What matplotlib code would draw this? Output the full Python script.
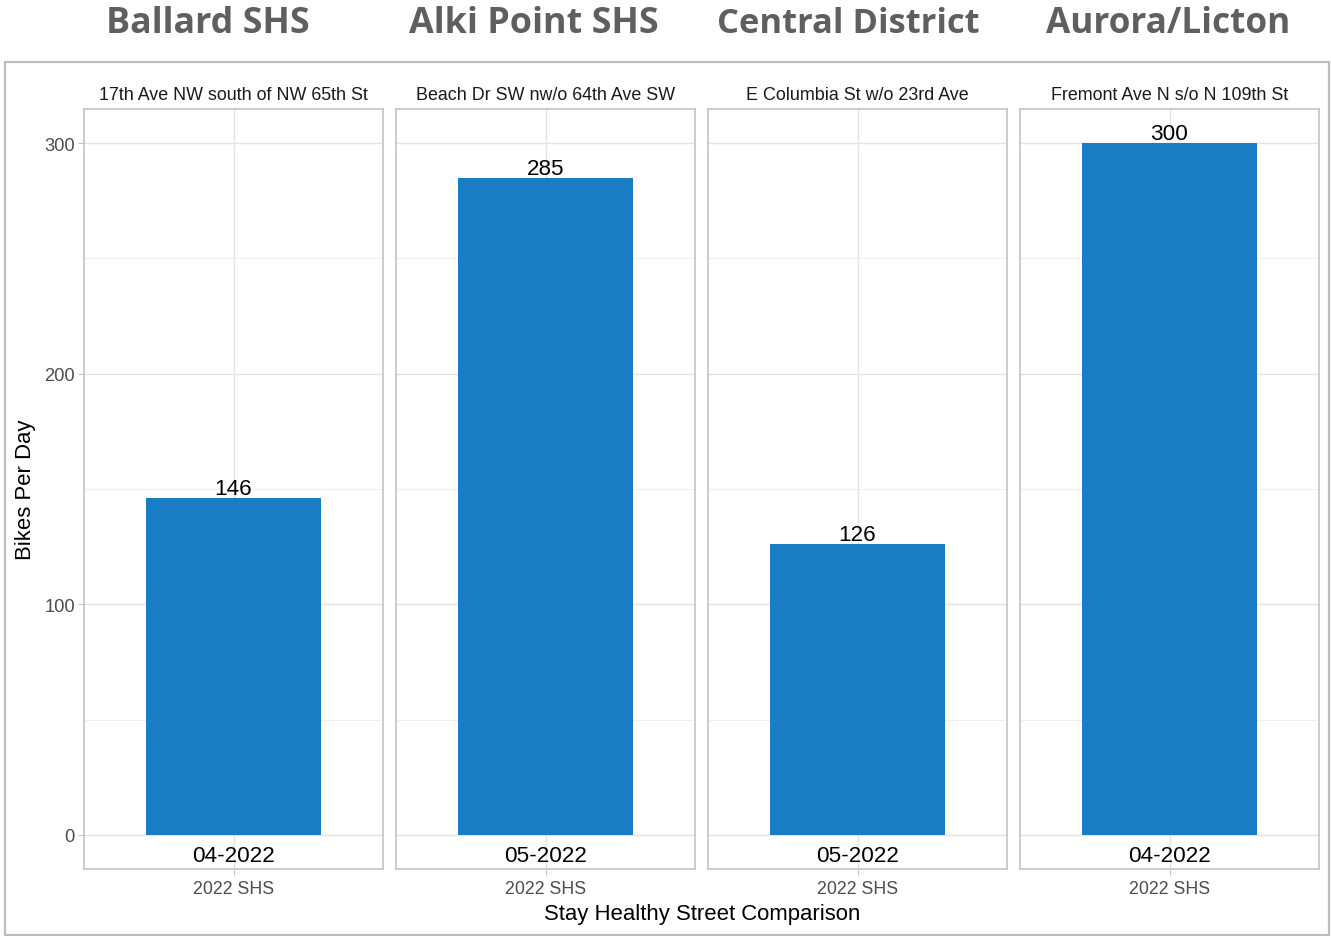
import matplotlib
matplotlib.use("Agg")
import matplotlib.pyplot as plt
from matplotlib.patches import Rectangle
from matplotlib.ticker import MultipleLocator

# --- data -------------------------------------------------------------
areas = ["Ballard SHS", "Alki Point SHS", "Central District", "Aurora/Licton"]
locations = [
    "17th Ave NW south of NW 65th St",
    "Beach Dr SW nw/o 64th Ave SW",
    "E Columbia St w/o 23rd Ave",
    "Fremont Ave N s/o N 109th St",
]
count_months = ["04-2022", "05-2022", "05-2022", "04-2022"]
bikes_per_day = [146, 285, 126, 300]
category = "2022 SHS"
y_ticks = [0, 100, 200, 300]

# --- styling ----------------------------------------------------------
W, H = 1331, 937
BAR = "#1a7cc3"
GRID = "#e3e3e3"
BORDER = "#c4c4c4"
TICK_TXT = "#4d4d4d"
FONT = "Liberation Sans"

plt.rcParams["font.family"] = FONT

fig = plt.figure(figsize=(W / 100, H / 100), dpi=100)


def rect(x0, x1, y0, y1):
    return [x0 / W, 1 - y1 / H, (x1 - x0) / W, (y1 - y0) / H]


# outer frame around the faceted plot
fig.patches.append(Rectangle((5 / W, 1 - 936 / H), (1329 - 5) / W, (936 - 63) / H,
                             transform=fig.transFigure, fill=False,
                             edgecolor="#bdbdbd", linewidth=1.6))

title_x = [208, 534, 848, 1168]
title_size = [25.8, 25.8, 24.8, 25.3]
panel_left = [84, 396, 708, 1020]
panel_w = 299

for i, (area, loc, month, val) in enumerate(
        zip(areas, locations, count_months, bikes_per_day)):
    ax = fig.add_axes(rect(panel_left[i], panel_left[i] + panel_w, 110, 870))
    ax.bar([1], [val], width=0.7, color=BAR, zorder=3)
    ax.set_xlim(0.4, 1.6)
    ax.set_ylim(-14.75, 314.75)

    ax.yaxis.set_major_locator(MultipleLocator(100))
    ax.yaxis.set_minor_locator(MultipleLocator(50))
    ax.set_xticks([1])
    ax.set_xticklabels([category])
    ax.grid(which="major", axis="both", color=GRID, linewidth=1.0, zorder=0)
    ax.grid(which="minor", axis="y", color="#efefef", linewidth=0.7, zorder=0)
    ax.set_axisbelow(True)

    for sp in ax.spines.values():
        sp.set_color(BORDER)
        sp.set_linewidth(1.2)

    ax.tick_params(axis="x", which="major", length=4.5, color=BORDER,
                   labelsize=12.8, labelcolor=TICK_TXT, pad=3.5)
    ax.tick_params(axis="y", which="minor", length=0)
    if i == 0:
        ax.set_yticks(y_ticks)
        ax.tick_params(axis="y", which="major", length=4.5, color=BORDER,
                       labelsize=13.2, labelcolor=TICK_TXT, pad=2)
    else:
        ax.tick_params(axis="y", which="major", length=0, labelleft=False)

    # facet strip label
    ax.annotate(loc, xy=(0.5, 1), xycoords="axes fraction",
                xytext=(0, 10), textcoords="offset pixels",
                ha="center", va="baseline", fontsize=12.9, color="#1a1a1a")

    # value above the bar and month below the baseline
    ax.annotate(str(val), xy=(1, val), xytext=(0, 4), textcoords="offset pixels",
                ha="center", va="baseline", fontsize=16.2, color="black")
    ax.annotate(month, xy=(1, 0), xytext=(0, -26), textcoords="offset pixels",
                ha="center", va="baseline", fontsize=16.2, color="black")

    fig.text(title_x[i] / W, 1 - 33 / H, area, ha="center", va="baseline",
             fontsize=title_size[i], fontweight="bold", color="#5f5f5f",
             family="Open Sans")

fig.text(26 / W, 1 - 490 / H, "Bikes Per Day", rotation=90, ha="center",
         va="center", fontsize=15.9, color="black")
fig.text(702 / W, 1 - 920 / H, "Stay Healthy Street Comparison", ha="center",
         va="baseline", fontsize=15.9, color="black")

fig.savefig("out.png", dpi=100, facecolor="white")
